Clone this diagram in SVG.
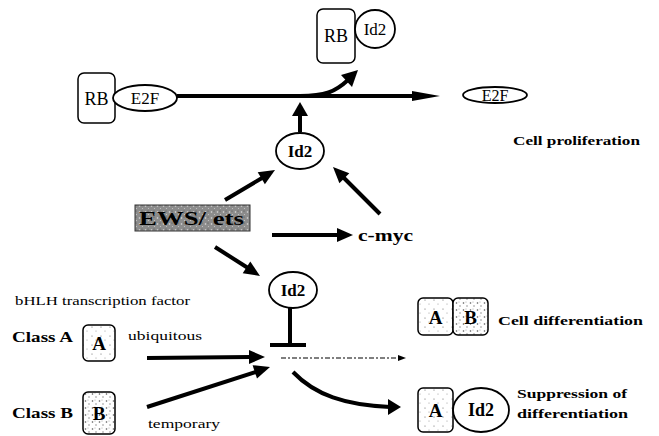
<svg xmlns="http://www.w3.org/2000/svg" width="659" height="436" viewBox="0 0 659 436" font-family="'Liberation Serif', 'DejaVu Serif', serif">
<defs>
<pattern id="light" width="9" height="9" patternUnits="userSpaceOnUse">
<rect width="9" height="9" fill="#fff"/>
<circle cx="2" cy="3" r="0.6" fill="#666"/>
<circle cx="6" cy="7" r="0.5" fill="#888"/>
</pattern>
<pattern id="mid" width="7" height="7" patternUnits="userSpaceOnUse">
<rect width="7" height="7" fill="#fff"/>
<circle cx="1.5" cy="2" r="0.8" fill="#555"/>
<circle cx="5" cy="5" r="0.7" fill="#777"/>
<circle cx="4" cy="1" r="0.5" fill="#999"/>
</pattern>
<pattern id="dark" width="6" height="6" patternUnits="userSpaceOnUse">
<rect width="6" height="6" fill="#8c8c8c"/>
<circle cx="1.5" cy="2" r="0.8" fill="#e0e0e0"/>
<circle cx="4.5" cy="4.5" r="0.6" fill="#c8c8c8"/>
<circle cx="4" cy="1" r="0.5" fill="#444"/>
</pattern>
</defs>
<style>
.b{font-weight:bold}
.box{fill:#fff;stroke:#000;stroke-width:1.5}
.ell{fill:#fff;stroke:#000;stroke-width:1.8}
.ln{fill:none;stroke:#000;stroke-width:4}
.hd{fill:#000}
</style>
<g id="connectors">
<path class="ln" d="M177,96 L415,96"/>
<path class="hd" d="M412,91 L440,96 L412,101 Z"/>
<path class="ln" d="M300,96 C325,96 335,92 348,80" stroke-width="3.5"/>
<path class="hd" d="M341,75 L358,70 L352,87 Z"/>
<path class="ln" d="M300,132 L300,112"/>
<path class="hd" d="M292,116 L300,102 L308,116 Z"/>
<path class="ln" d="M225,200 L262,178"/>
<path class="hd" d="M275,170 L264.9,184.2 L257.7,172.2 Z"/>
<path class="ln" d="M380,214 L343,177"/>
<path class="hd" d="M333,167 L349.3,173.3 L339.4,183.2 Z"/>
<path class="ln" d="M272,235 L339,235" stroke-width="5"/>
<path class="hd" d="M353,235 L337,228 L337,242 Z"/>
<path class="ln" d="M215,247 L248,268"/>
<path class="hd" d="M260,276 L242.7,273.2 L250.3,261.4 Z"/>
<path class="ln" d="M290,308 L290,345" stroke-width="3.5"/>
<path class="ln" d="M270,345 L306,345" stroke-width="3.5"/>
<path d="M281,358 L400,358" fill="none" stroke="#000" stroke-width="1.2" stroke-dasharray="5,2,2,2"/>
<path class="hd" d="M398,355 L406,358 L398,361 Z"/>
<path class="ln" d="M147,358 L250,357" stroke-width="3.5"/>
<path class="hd" d="M265,357 L249,350 L249,364 Z"/>
<path class="ln" d="M147,407 L256,372" stroke-width="3.5"/>
<path class="hd" d="M270,367 L257,378.6 L252.6,365.2 Z"/>
<path class="ln" d="M293,372 C315,395 345,405 390,407" stroke-width="3.5"/>
<path class="hd" d="M388,399 L401,407 L388,415 Z"/>
</g>
<g id="rb-e2f">
<rect class="box" x="78" y="73" width="37" height="50" rx="6"/>
<ellipse class="ell" cx="145" cy="98" rx="32" ry="13"/>
<text x="96.5" y="105" font-size="18" text-anchor="middle">RB</text>
<text x="145" y="104" font-size="17" text-anchor="middle">E2F</text>
</g>
<g id="rb-id2">
<rect class="box" x="317" y="9" width="38" height="54" rx="6"/>
<ellipse class="ell" cx="375" cy="29" rx="20" ry="19"/>
<text x="336" y="42" font-size="18" text-anchor="middle">RB</text>
<text x="375" y="35" font-size="17" text-anchor="middle">Id2</text>
</g>
<g id="e2f-free">
<ellipse class="ell" cx="495" cy="95" rx="32" ry="8" stroke-width="2"/>
<text x="495" y="101" font-size="16" text-anchor="middle">E2F</text>
</g>
<g id="cell-prolif">
<text class="b" x="513" y="145" font-size="13" textLength="127" lengthAdjust="spacingAndGlyphs">Cell proliferation</text>
</g>
<g id="id2-top">
<ellipse class="ell" cx="300" cy="151" rx="24" ry="18"/>
<text class="b" x="300" y="157" font-size="17" text-anchor="middle">Id2</text>
</g>
<g id="ews-ets">
<rect x="135" y="205" width="115" height="26" fill="url(#dark)" stroke="#333" stroke-width="1"/>
<text class="b" x="139" y="225" font-size="19" textLength="105" lengthAdjust="spacingAndGlyphs">EWS/ ets</text>
</g>
<g id="c-myc">
<text class="b" x="358" y="241" font-size="16" textLength="55" lengthAdjust="spacingAndGlyphs">c-myc</text>
</g>
<g id="id2-mid">
<ellipse class="ell" cx="293" cy="290" rx="24" ry="18"/>
<text class="b" x="293" y="296" font-size="17" text-anchor="middle">Id2</text>
</g>
<g id="bhlh-label">
<text x="15" y="305" font-size="12" textLength="175" lengthAdjust="spacingAndGlyphs">bHLH transcription factor</text>
</g>
<g id="class-a">
<text class="b" x="12" y="342" font-size="14" textLength="61" lengthAdjust="spacingAndGlyphs">Class A</text>
<rect x="83" y="325" width="32" height="36" rx="5" fill="url(#light)" stroke="#000" stroke-width="1.5"/>
<text class="b" x="99" y="350" font-size="19" text-anchor="middle">A</text>
<text x="128" y="340" font-size="12" textLength="74" lengthAdjust="spacingAndGlyphs">ubiquitous</text>
</g>
<g id="class-b">
<text class="b" x="12" y="418" font-size="14" textLength="61" lengthAdjust="spacingAndGlyphs">Class B</text>
<rect x="83" y="392" width="32" height="42" rx="5" fill="url(#mid)" stroke="#000" stroke-width="1.5"/>
<text class="b" x="99" y="420" font-size="19" text-anchor="middle">B</text>
<text x="148" y="428" font-size="12" textLength="72" lengthAdjust="spacingAndGlyphs">temporary</text>
</g>
<g id="ab-complex">
<rect x="418" y="298" width="35" height="37" rx="5" fill="url(#light)" stroke="#000" stroke-width="1.5"/>
<rect x="453" y="298" width="35" height="37" rx="5" fill="url(#mid)" stroke="#000" stroke-width="1.5"/>
<text class="b" x="435.5" y="324" font-size="19" text-anchor="middle">A</text>
<text class="b" x="470.5" y="324" font-size="19" text-anchor="middle">B</text>
<text class="b" x="498" y="325" font-size="13" textLength="145" lengthAdjust="spacingAndGlyphs">Cell differentiation</text>
</g>
<g id="a-id2-complex">
<rect x="418" y="388" width="35" height="44" rx="5" fill="url(#light)" stroke="#000" stroke-width="1.5"/>
<ellipse class="ell" cx="481" cy="410" rx="28" ry="22"/>
<text class="b" x="435.5" y="417" font-size="19" text-anchor="middle">A</text>
<text class="b" x="481" y="416" font-size="18" text-anchor="middle">Id2</text>
<text class="b" x="517" y="398" font-size="13" textLength="110" lengthAdjust="spacingAndGlyphs">Suppression of</text>
<text class="b" x="517" y="418" font-size="13" textLength="111" lengthAdjust="spacingAndGlyphs">differentiation</text>
</g>
</svg>
